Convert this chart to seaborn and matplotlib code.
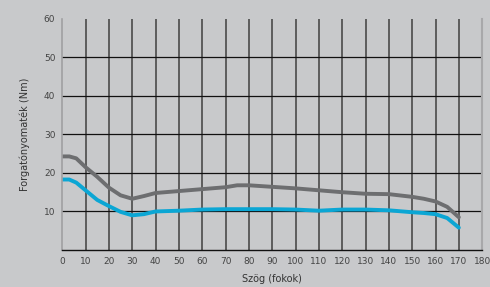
import matplotlib
matplotlib.use("Agg")
import matplotlib.pyplot as plt
import seaborn as sns
import pandas as pd

# adatok
szog = [0, 3, 6, 10, 15, 20, 25, 30, 35, 40, 50, 60, 70, 75, 80, 90, 100, 110,
        120, 130, 140, 150, 155, 160, 165, 170]
nyomatek_szurke = [24.3, 24.3, 23.8, 21.5, 19.0, 16.2, 14.2, 13.3, 14.0, 14.8, 15.3,
                   15.8, 16.3, 16.8, 16.8, 16.4, 16.0, 15.5, 15.0, 14.6, 14.5, 13.8,
                   13.3, 12.6, 11.2, 8.5]
nyomatek_kek = [18.3, 18.3, 17.5, 15.5, 13.0, 11.4, 9.9, 9.0, 9.3, 10.0, 10.2, 10.5,
                10.6, 10.6, 10.6, 10.6, 10.5, 10.2, 10.5, 10.5, 10.3, 9.8, 9.6, 9.3,
                8.3, 5.8]

df = pd.DataFrame({"szog": szog, "szurke": nyomatek_szurke, "kek": nyomatek_kek})

sns.set_style("white")
bg = "#c8c9cb"
fig, ax = plt.subplots(figsize=(4.9, 2.87), dpi=100)
fig.patch.set_facecolor(bg)
ax.set_facecolor(bg)
fig.subplots_adjust(left=0.127, right=0.984, top=0.934, bottom=0.129)

sns.lineplot(data=df, x="szog", y="szurke", ax=ax, color="#6d6e70", linewidth=2.8,
             solid_capstyle="round")
sns.lineplot(data=df, x="szog", y="kek", ax=ax, color="#0ba6d4", linewidth=2.8,
             solid_capstyle="round")

ax.set_xlim(0, 180)
ax.set_ylim(0, 60)
ax.set_xticks(range(0, 181, 10))
ax.set_yticks([10, 20, 30, 40, 50, 60])
for x in range(10, 180, 10):
    ax.axvline(x, color="#4a4a4a", linewidth=1.2, zorder=0)
for y in range(10, 60, 10):
    ax.axhline(y, color="#111111", linewidth=0.9, zorder=0)

ax.tick_params(axis="both", length=0, labelsize=6.5, labelcolor="#444444", pad=5)

ax.spines["top"].set_visible(False)
ax.spines["left"].set_color("#a0a0a2")
ax.spines["left"].set_linewidth(1.2)
ax.spines["right"].set_color("#a8a8aa")
ax.spines["right"].set_linewidth(1.5)
ax.spines["bottom"].set_color("#111111")
ax.spines["bottom"].set_linewidth(1.0)

ax.set_xlabel("Szög (fokok)", fontsize=7, color="#333333", labelpad=6)
ax.set_ylabel("Forgatónyomaték (Nm)", fontsize=7, color="#333333", labelpad=10)

plt.savefig("out.png", dpi=100, facecolor=bg)
